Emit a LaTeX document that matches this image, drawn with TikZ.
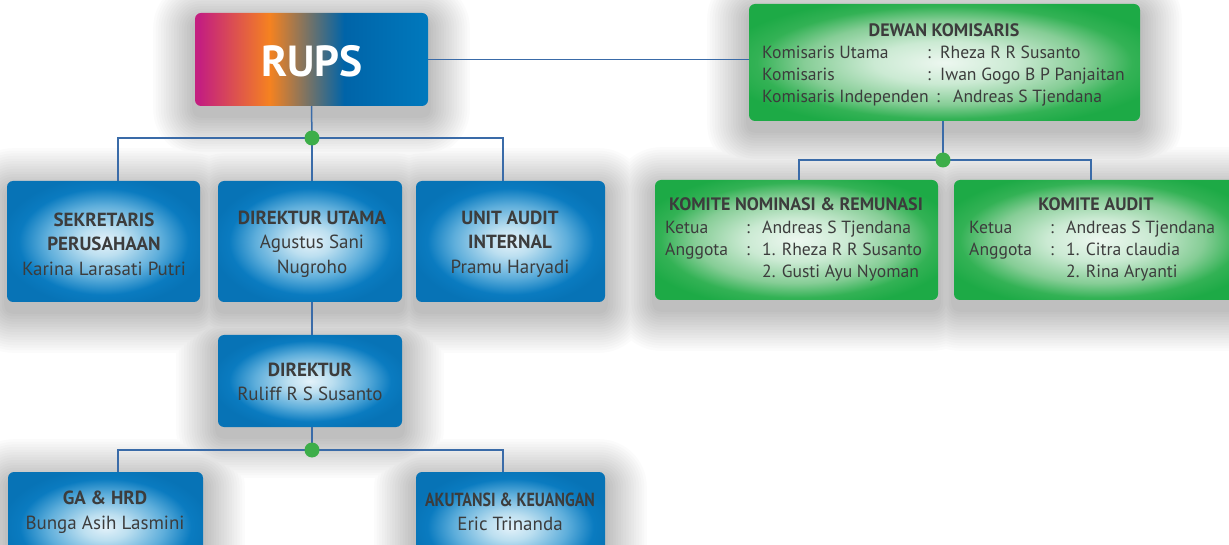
\documentclass[tikz,border=0pt]{standalone}
\usepackage{fontspec}
\setmainfont{PT Sans}
\definecolor{mag}{HTML}{C41F7F}
\definecolor{org}{HTML}{F58220}
\definecolor{bluA}{HTML}{0064A8}
\definecolor{bluB}{HTML}{0079BD}
\definecolor{linec}{HTML}{3A6BA8}
\definecolor{dotc}{HTML}{3DAE49}
\definecolor{txt}{HTML}{3C3C3C}
\definecolor{bC}{HTML}{E4F2FA}
\definecolor{bM1}{HTML}{BCDFF0}
\definecolor{bM2}{HTML}{5EAEDB}
\definecolor{bE}{HTML}{0A7BC0}
\definecolor{bE2}{HTML}{0773B6}
\definecolor{gC}{HTML}{EDF7F0}
\definecolor{gM1}{HTML}{CBEAD3}
\definecolor{gM2}{HTML}{86CD96}
\definecolor{gE}{HTML}{33B255}
\definecolor{gE2}{HTML}{1DAA46}
\pgfdeclarehorizontalshading{rups}{100bp}{color(0bp)=(mag); color(26bp)=(mag); color(41bp)=(org); color(57bp)=(bluA); color(75bp)=(bluB); color(100bp)=(bluB)}
\pgfdeclareradialshading{bshade}{\pgfpoint{0bp}{0bp}}{color(0bp)=(bC); color(6bp)=(bM1); color(15bp)=(bM2); color(22bp)=(bE); color(27bp)=(bE2); color(50bp)=(bE2)}
\pgfdeclareradialshading{gshade}{\pgfpoint{0bp}{0bp}}{color(0bp)=(gC); color(9bp)=(gM1); color(18bp)=(gM2); color(24bp)=(gE); color(29bp)=(gE2); color(50bp)=(gE2)}
\pgfdeclarelayer{back}
\pgfdeclarelayer{bg}
\pgfsetlayers{back,bg,main}
\tikzset{
  bluebox/.style={rounded corners=6pt, shading=bshade, draw=none, inner sep=0pt},
  greenbox/.style={rounded corners=6pt, shading=gshade, draw=none, inner sep=0pt},
  conn/.style={draw=linec, line width=1.5pt},
  jdot/.style={circle, fill=dotc, minimum size=15pt, inner sep=0pt},
  btxt/.style={text=txt, align=center, font=\fontsize{19}{24.5}\selectfont, inner sep=0pt},
  gtxt/.style={text=txt, anchor=base west, font=\fontsize{17.6}{20}\selectfont, inner sep=0pt},
  gtitle/.style={text=txt, anchor=base, font=\fontsize{18}{20}\selectfont\bfseries, inner sep=0pt}
}
\begin{document}
\begin{tikzpicture}[x=1pt,y=-1pt]
\begin{pgfonlayer}{back}
\fill[white] (0,0) rectangle (1229,545);
\end{pgfonlayer}
\useasboundingbox (0,0) rectangle (1229,545);
\coordinate (d1) at (312,138);
\coordinate (d2) at (943,160);
\coordinate (d3) at (312,450);
% boxes
\node[rounded corners=6pt, shading=rups, minimum width=233pt, minimum height=93pt, inner sep=0pt] (rups) at (311.5,59.5) {};
\node[text=white, font=\fontsize{43.5}{44}\selectfont\bfseries] (rupsT) at (312,61) {RUPS};
\node[greenbox, minimum width=391pt, minimum height=117pt] (dewan) at (944.5,62.5) {};
\node[greenbox, minimum width=283pt, minimum height=120pt] (kn) at (796.5,240) {};
\node[greenbox, minimum width=290pt, minimum height=120pt] (ka) at (1099,240) {};
\node[bluebox, minimum width=193pt, minimum height=121pt] (sek) at (103.5,241.5) {};
\node[bluebox, minimum width=184pt, minimum height=121pt] (du) at (310,241.5) {};
\node[bluebox, minimum width=189pt, minimum height=121pt] (ua) at (510.5,241.5) {};
\node[bluebox, minimum width=184pt, minimum height=92pt] (dir) at (310,381) {};
\node[bluebox, minimum width=195pt, minimum height=110pt] (ga) at (105.5,527) {};
\node[bluebox, minimum width=189pt, minimum height=110pt] (ak) at (510.5,527) {};
% soft shadows (each ring drawn as one transparency group)
\begin{pgfonlayer}{bg}
\foreach \i in {1,...,16}{
  \begin{scope}[transparency group, opacity=0.016]
  \foreach \b in {rups,dewan,kn,ka,sek,du,ua,dir,ga,ak}{
    \pgfmathsetmacro{\rr}{6+2.6*\i}
    \fill[black, rounded corners=\rr pt]
      ([shift={(-2.6*\i,-2.6*\i+9)}]\b.north west) rectangle ([shift={(2.6*\i,2.6*\i+9)}]\b.south east);
  }
  \end{scope}
}
\end{pgfonlayer}
% connector lines
\draw[conn] (rups.east) -- (dewan.west |- rups.east);
\draw[conn] (rups.south) -- (d1);
\draw[conn] (sek.north -| 118,0) |- (d1) -| (ua.north -| 503,0);
\draw[conn] (d1) -- (du.north -| d1);
\draw[conn] (dewan.south -| d2) -- (d2);
\draw[conn] (kn.north -| 799,0) |- (d2) -| (ka.north -| 1091,0);
\draw[conn] (du.south -| d1) -- (dir.north -| d1);
\draw[conn] (dir.south -| d3) -- (d3);
\draw[conn] (ga.north -| 118,0) |- (d3) -| (ak.north -| 503,0);
\node[jdot] (j1) at (d1) {};
\node[jdot] (j2) at (d2) {};
\node[jdot] (j3) at (d3) {};
% blue box texts
\node[btxt] (sekT) at (104,244) {\textbf{SEKRETARIS}\\\textbf{PERUSAHAAN}\\Karina Larasati Putri};
\node[btxt] (duT) at (312,244) {\textbf{DIREKTUR UTAMA}\\Agustus Sani\\Nugroho};
\node[btxt] (uaT) at (510,244) {\textbf{UNIT AUDIT}\\\textbf{INTERNAL}\\Pramu Haryadi};
\node[btxt] (dirT) at (310,382) {\textbf{DIREKTUR}\\Ruliff R S Susanto};
\node[btxt] (gaT) at (105,512) {\textbf{GA \& HRD}\\Bunga Asih Lasmini};
\node[btxt] (akT) at (510,512) {\scalebox{0.84}[1]{\textbf{AKUTANSI \& KEUANGAN}}\\Eric Trinanda};
% Dewan komisaris
\node[gtitle] (dwT) at (944,37) {DEWAN KOMISARIS};
\node[gtxt] (dw1) at (762,59) {Komisaris Utama};
\node[gtxt] (dw1c) at (927,59) {:};
\node[gtxt] (dw1v) at (940,59) {Rheza R R Susanto};
\node[gtxt] (dw2) at (762,81) {Komisaris};
\node[gtxt] (dw2c) at (927,81) {:};
\node[gtxt] (dw2v) at (940,81) {Iwan Gogo B P Panjaitan};
\node[gtxt] (dw3) at (762,103) {Komisaris Independen};
\node[gtxt] (dw3c) at (936,103) {:};
\node[gtxt] (dw3v) at (953,103) {Andreas S Tjendana};
% Komite nominasi
\node[gtitle] (knT) at (796,211) {KOMITE NOMINASI \& REMUNASI};
\node[gtxt] (kn1) at (665,234) {Ketua};
\node[gtxt] (kn1c) at (746,234) {:};
\node[gtxt] (kn1v) at (762,234) {Andreas S Tjendana};
\node[gtxt] (kn2) at (665,256) {Anggota};
\node[gtxt] (kn2c) at (746,256) {:};
\node[gtxt] (kn2v) at (762,256) {1. Rheza R R Susanto};
\node[gtxt] (kn3v) at (762,278) {2. Gusti Ayu Nyoman};
% Komite audit
\node[gtitle] (kaT) at (1096,211) {KOMITE AUDIT};
\node[gtxt] (ka1) at (969,234) {Ketua};
\node[gtxt] (ka1c) at (1050,234) {:};
\node[gtxt] (ka1v) at (1066,234) {Andreas S Tjendana};
\node[gtxt] (ka2) at (969,256) {Anggota};
\node[gtxt] (ka2c) at (1050,256) {:};
\node[gtxt] (ka2v) at (1066,256) {1. Citra claudia};
\node[gtxt] (ka3v) at (1066,278) {2. Rina Aryanti};
\end{tikzpicture}
\end{document}
